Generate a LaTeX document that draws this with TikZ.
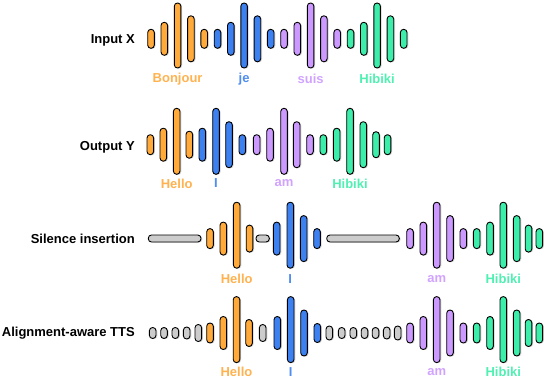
\documentclass[tikz,border=0pt]{standalone}
\usepackage{fontspec}
\setmainfont{Liberation Sans}
\usepackage{tikz}
\usetikzlibrary{shadows}

\definecolor{cOr}{HTML}{FFAA3B}
\definecolor{cBl}{HTML}{3D80F0}
\definecolor{cPu}{HTML}{CC99FF}
\definecolor{cGr}{HTML}{3CEEAA}
\definecolor{cGy}{HTML}{CCCCCC}

\begin{document}
\begin{tikzpicture}[
  x=1pt, y=-1pt,
  font=\fontsize{13}{15}\selectfont\bfseries,
  wb/.style={draw=black, line width=0.9pt, rounded corners=3.2pt,
    drop shadow={shadow xshift=1.3pt, shadow yshift=-0.6pt, opacity=0.35}},
  rowlab/.style={anchor=east, inner sep=0pt},
  wd/.style={inner sep=0pt}
]
\useasboundingbox (0,0) rectangle (544,378);

% row labels
\node[rowlab] (inX) at (135,40) {Input X};
\node[rowlab] (outY) at (135,147.5) {Output Y};
\node[rowlab] (sil) at (135,238.5) {Silence insertion};
\node[rowlab] (tts) at (135,332.8) {Alignment-aware TTS};

% Input X
\foreach \w/\c/\t in {0/cOr/Bonjour, 1/cBl/je, 2/cPu/suis, 3/cGr/Hibiki} {
  \foreach \i/\h in {0/19, 1/33, 2/65, 3/46, 4/19} {
    \pgfmathsetmacro\xx{151+13.3*(5*\w+\i)}
    \pgfmathsetmacro\yy{38.8-(\h>60)*3.3}
    \draw[wb, fill=\c] ({\xx-3.3},{\yy-\h/2}) rectangle ({\xx+3.3},{\yy+\h/2});
  }
  \node[wd, text=\c!90!white] (x\w) at ({151+13.3*(5*\w+2)},79) {\t};
}

% Output Y
\foreach \xx/\h/\c in {150.3/20/cOr, 163.3/33/cOr, 176.7/66/cOr, 189.3/27/cOr,
    202.3/33/cBl, 216/66/cBl, 229/46/cBl, 242.3/20/cBl,
    256.7/20/cPu, 270/33/cPu, 284/66/cPu, 296.7/46/cPu, 310/20/cPu,
    323.3/20/cGr, 336.7/33/cGr, 350/66/cGr, 363.3/46/cGr, 376/26/cGr, 387.5/20/cGr} {
  \pgfmathsetmacro\yy{144.7-(\h>60)*3.4}
  \draw[wb, fill=\c] ({\xx-3.3},{\yy-\h/2}) rectangle ({\xx+3.3},{\yy+\h/2});
}
\node[wd, text=cOr!90!white] (y0) at (176.7,183.5) {Hello};
\node[wd, text=cBl!90!white] (y1) at (216,183.5) {I};
\node[wd, text=cPu!90!white] (y2) at (284,183.5) {am};
\node[wd, text=cGr!90!white] (y3) at (350,183.5) {Hibiki};

% Silence insertion
\draw[wb, fill=cGy] (148.3,235) rectangle (201,242);
\draw[wb, fill=cGy] (256,235) rectangle (269.3,242);
\draw[wb, fill=cGy] (326.7,235) rectangle (399.3,242);
\foreach \xx/\h/\c in {210/20/cOr, 223.3/33/cOr, 236.7/66/cOr, 249.5/27/cOr,
    276.7/33/cBl, 290.3/66/cBl, 303.7/46/cBl, 317/20/cBl,
    410/20/cPu, 423.3/33/cPu, 436.7/66/cPu, 450/46/cPu, 463.3/20/cPu,
    476.7/20/cGr, 490/33/cGr, 503.3/66/cGr, 516.7/46/cGr, 528.5/27/cGr, 539.3/20/cGr} {
  \pgfmathsetmacro\yy{238.6-(\h>60)*3.4}
  \draw[wb, fill=\c] ({\xx-3.3},{\yy-\h/2}) rectangle ({\xx+3.3},{\yy+\h/2});
}
\node[wd, text=cOr!90!white] (s0) at (236.7,278.8) {Hello};
\node[wd, text=cBl!90!white] (s1) at (290.3,278.8) {I};
\node[wd, text=cPu!90!white] (s2) at (436.7,278.8) {am};
\node[wd, text=cGr!90!white] (s3) at (503.3,278.8) {Hibiki};

% Alignment-aware TTS
\foreach \xx/\h/\c in {152.7/11/cGy, 164/11/cGy, 175.3/11/cGy, 186.7/12/cGy, 198.3/17/cGy,
    210/20/cOr, 223.3/33/cOr, 236.5/66/cOr, 249/27/cOr, 262.7/17/cGy,
    277.3/33/cBl, 290.7/66/cBl, 304/46/cBl, 317.3/19/cBl,
    329.3/14/cGy, 341.7/11/cGy, 353.3/11/cGy, 364.5/11/cGy, 375.5/11/cGy, 386.7/12/cGy, 397.7/14/cGy,
    410/20/cPu, 423.3/33/cPu, 436.7/66/cPu, 450/46/cPu, 463.3/20/cPu,
    476.7/20/cGr, 490/33/cGr, 503.3/66/cGr, 516.7/46/cGr, 528.5/27/cGr, 539.3/20/cGr} {
  \pgfmathsetmacro\yy{333-(\h>60)*3.4}
  \draw[wb, fill=\c] ({\xx-3.3},{\yy-\h/2}) rectangle ({\xx+3.3},{\yy+\h/2});
}
\node[wd, text=cOr!90!white] (t0) at (236.5,371.8) {Hello};
\node[wd, text=cBl!90!white] (t1) at (290.7,371.8) {I};
\node[wd, text=cPu!90!white] (t2) at (436.7,371.8) {am};
\node[wd, text=cGr!90!white] (t3) at (503.3,371.8) {Hibiki};
\end{tikzpicture}
\end{document}
